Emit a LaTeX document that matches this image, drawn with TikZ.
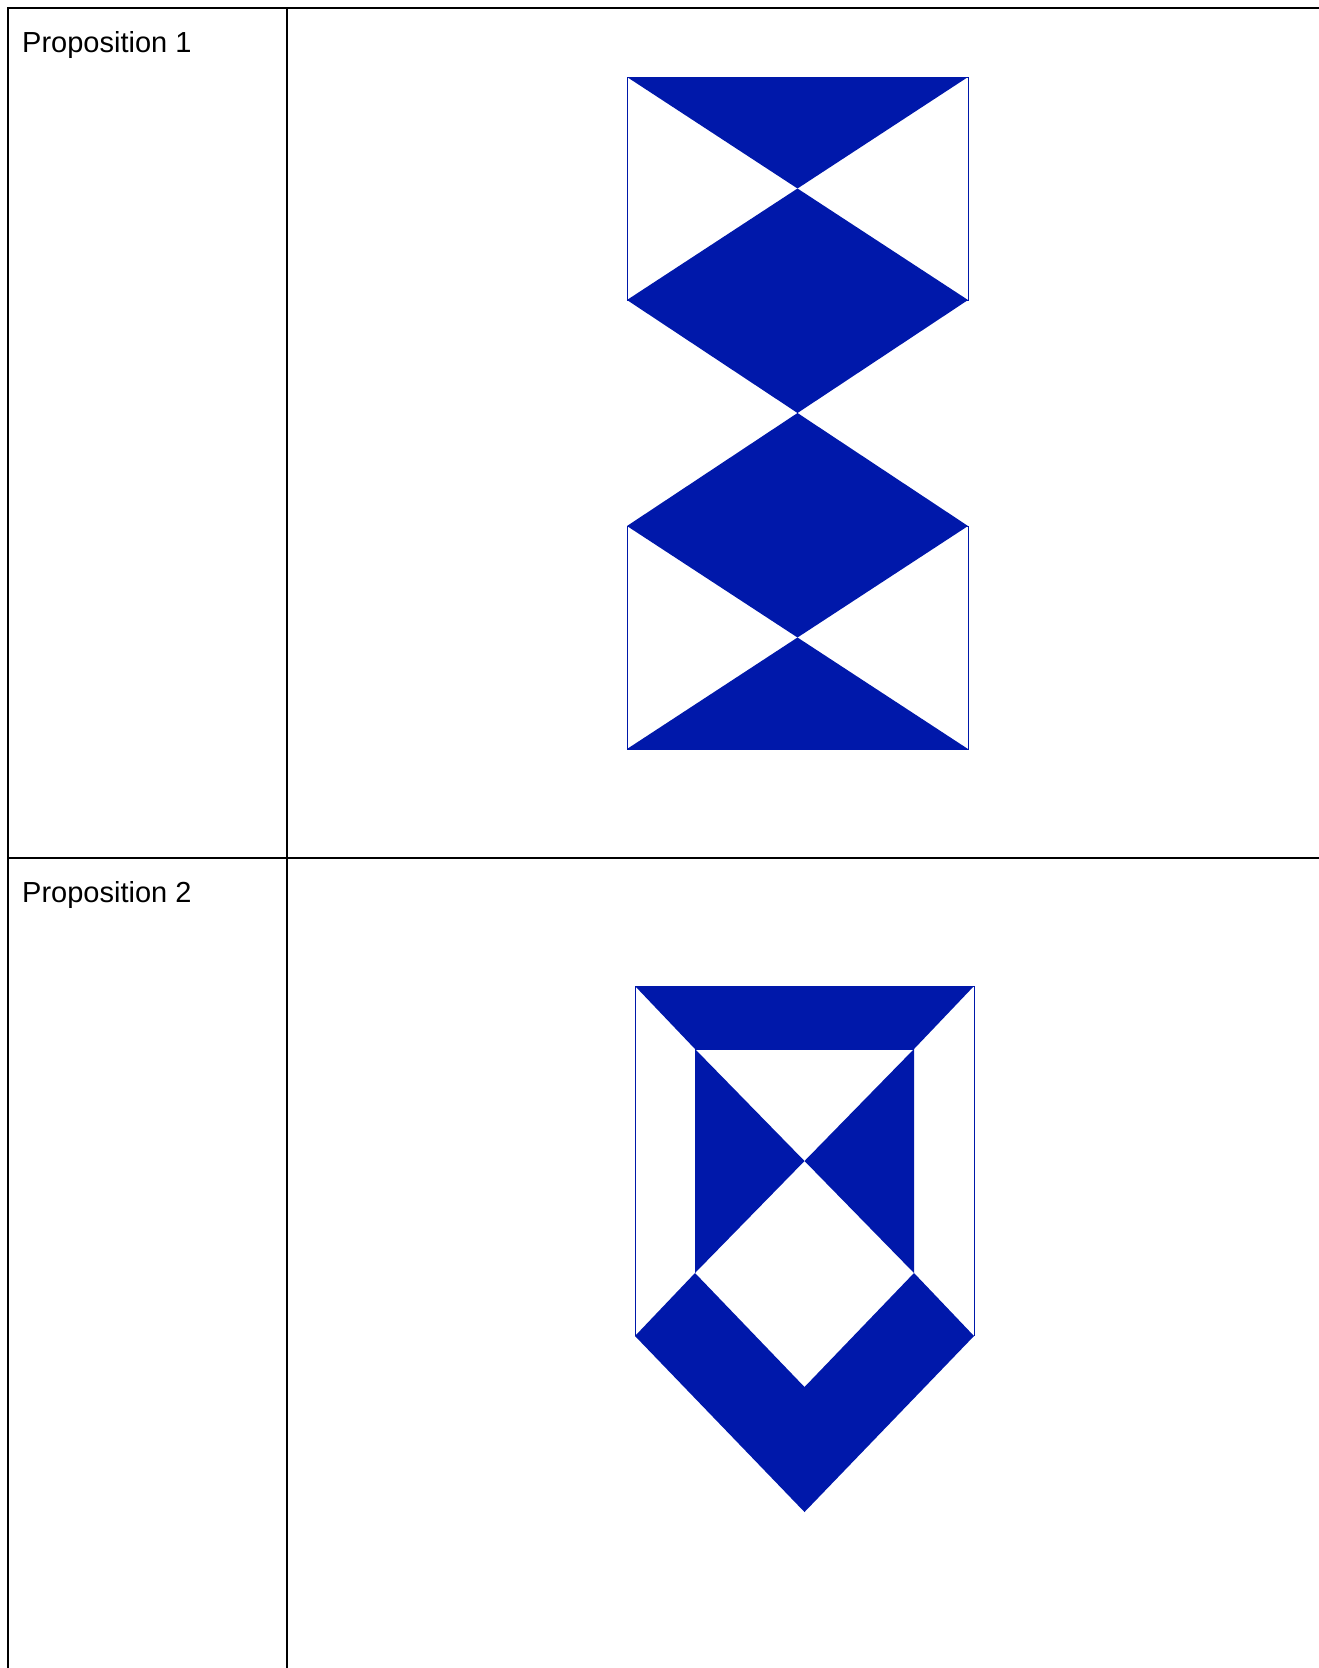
\documentclass[tikz,border=0pt]{standalone}
\usepackage{fontspec}
\setmainfont{Liberation Sans}
\usetikzlibrary{positioning}
\definecolor{propblue}{RGB}{0,24,170}

\begin{document}
\begin{tikzpicture}[x=1pt,y=-1pt]
	\tikzset{
		cellline/.style={line width=2pt, black},
		bluefill/.style={fill=propblue, draw=none},
		rimline/.style={draw=propblue, line width=1pt},
		proplabel/.style={anchor=base west, inner sep=0pt, font=\fontsize{29}{35}\selectfont}
	}
	\useasboundingbox (0,0) rectangle (1319,1668);
	% table
	\draw[cellline] (8,1670) -- (8,8) -- (1321,8);
	\draw[cellline] (287,8) -- (287,1670);
	\draw[cellline] (8,858) -- (1321,858);
	\node[proplabel] (prop1) at (22,52) {Proposition 1};
	\node[proplabel] (prop2) at (22,902) {Proposition 2};
	% first figure
	\coordinate (a1) at (627,77);   \coordinate (b1) at (968,77);
	\coordinate (c1) at (627,300);  \coordinate (d1) at (968,300);
	\coordinate (x1) at (797.5,188.5);
	\coordinate (m1) at (797.5,413);
	\coordinate (e1) at (627,526);  \coordinate (f1) at (968,526);
	\coordinate (x2) at (797.5,637.5);
	\coordinate (g1) at (627,749);  \coordinate (h1) at (968,749);
	\fill[bluefill] (a1) -- (b1) -- (x1) -- cycle;
	\fill[bluefill] (x1) -- (d1) -- (m1) -- (c1) -- cycle;
	\fill[bluefill] (m1) -- (f1) -- (x2) -- (e1) -- cycle;
	\fill[bluefill] (x2) -- (h1) -- (g1) -- cycle;
	\draw[rimline] (a1) -- (b1) -- (d1) -- (c1) -- cycle;
	\draw[rimline] (e1) -- (f1) -- (h1) -- (g1) -- cycle;
	% second figure
	\coordinate (p2) at (635,986);   \coordinate (q2) at (974,986);
	\coordinate (r2) at (695,1049);  \coordinate (s2) at (914,1049);
	\coordinate (x3) at (804.5,1161);
	\coordinate (t2) at (695,1273);  \coordinate (u2) at (914,1273);
	\coordinate (v2) at (635,1336);  \coordinate (w2) at (974,1336);
	\coordinate (y2) at (804.5,1387);
	\coordinate (z2) at (804.5,1512);
	\fill[bluefill] (p2) -- (q2) -- (s2) -- (r2) -- cycle;
	\fill[bluefill] (r2) -- (x3) -- (t2) -- cycle;
	\fill[bluefill] (s2) -- (x3) -- (u2) -- cycle;
	\fill[bluefill] (v2) -- (t2) -- (y2) -- (u2) -- (w2) -- (z2) -- cycle;
	\draw[rimline] (v2) -- (p2) -- (q2) -- (w2);
	\draw[rimline] (r2) -- (s2);
\end{tikzpicture}
\end{document}
